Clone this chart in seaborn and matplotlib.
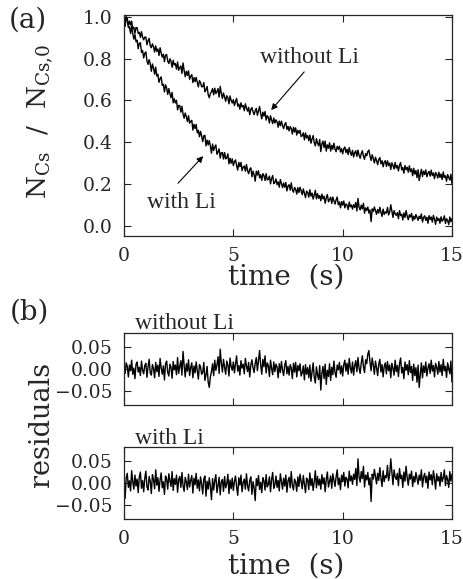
import numpy as np
import pandas as pd
import matplotlib
matplotlib.use("Agg")
import matplotlib.pyplot as plt
import seaborn as sns

# ---------------- data (values in thousandths, sampled every 0.05 s) ----------------
n_points = 301
t_start, t_end = 0.0, 15.0

without_li = [1000, 984, 1003, 989, 960, 981, 962, 981, 943, 952,
              922, 950, 949, 921, 927, 903, 930, 904, 891, 904,
              904, 867, 886, 898, 862, 853, 872, 858, 832, 862,
              836, 847, 816, 853, 827, 808, 822, 786, 818, 820,
              789, 777, 800, 788, 759, 793, 770, 777, 750, 785,
              745, 757, 766, 730, 780, 744, 714, 740, 720, 742,
              702, 716, 724, 686, 710, 690, 711, 688, 665, 695,
              686, 666, 666, 686, 642, 651, 667, 628, 613, 633,
              642, 657, 627, 659, 633, 642, 657, 616, 668, 634,
              610, 636, 615, 596, 623, 613, 584, 622, 600, 588,
              604, 576, 595, 610, 573, 583, 558, 589, 569, 576,
              551, 584, 564, 549, 567, 532, 557, 566, 546, 532,
              551, 562, 529, 549, 571, 537, 512, 544, 525, 547,
              506, 527, 519, 492, 527, 506, 489, 516, 492, 507,
              498, 472, 501, 479, 501, 479, 465, 486, 494, 461,
              476, 454, 475, 465, 439, 472, 449, 469, 434, 457,
              443, 457, 427, 431, 445, 411, 444, 420, 432, 407,
              434, 395, 415, 432, 398, 382, 417, 396, 383, 413,
              355, 391, 405, 374, 405, 357, 387, 371, 397, 357,
              385, 366, 395, 367, 354, 380, 366, 381, 353, 369,
              344, 368, 377, 350, 366, 340, 374, 351, 337, 361,
              329, 349, 359, 332, 362, 337, 323, 345, 359, 333,
              318, 345, 335, 355, 362, 333, 312, 340, 322, 300,
              328, 312, 292, 317, 326, 296, 311, 282, 304, 311,
              284, 311, 288, 300, 269, 301, 288, 271, 303, 276,
              288, 262, 290, 302, 267, 279, 251, 288, 268, 280,
              256, 287, 259, 272, 239, 275, 247, 264, 230, 268,
              216, 245, 270, 235, 261, 245, 267, 234, 251, 260,
              237, 266, 240, 252, 225, 255, 245, 228, 256, 231,
              247, 221, 257, 230, 239, 213, 245, 231, 218, 246,
              200]

with_li = [1000, 955, 992, 991, 949, 954, 921, 957, 921, 894,
           916, 882, 889, 848, 875, 877, 831, 840, 804, 826,
           833, 789, 773, 796, 776, 740, 775, 755, 726, 760,
           717, 726, 687, 705, 713, 672, 678, 641, 675, 660,
           629, 657, 633, 613, 639, 589, 608, 588, 601, 555,
           576, 576, 544, 572, 535, 515, 540, 522, 499, 527,
           491, 500, 505, 458, 486, 465, 485, 445, 457, 426,
           452, 431, 402, 431, 433, 382, 410, 387, 408, 382,
           347, 391, 360, 377, 387, 342, 353, 368, 324, 349,
           350, 319, 350, 320, 325, 344, 296, 323, 299, 320,
           288, 306, 315, 288, 266, 303, 283, 303, 263, 281,
           286, 261, 293, 263, 249, 271, 277, 234, 261, 244,
           213, 261, 242, 263, 229, 244, 217, 249, 240, 216,
           249, 219, 222, 237, 200, 226, 240, 201, 207, 224,
           196, 210, 184, 221, 201, 182, 204, 184, 207, 166,
           190, 196, 170, 205, 171, 160, 183, 174, 151, 182,
           158, 184, 167, 148, 176, 155, 134, 165, 159, 136,
           172, 141, 156, 127, 146, 169, 128, 153, 131, 144,
           119, 151, 128, 141, 107, 134, 149, 114, 125, 136,
           106, 137, 119, 103, 123, 137, 100, 113, 85, 115,
           98, 118, 85, 104, 98, 77, 113, 90, 99, 79,
           100, 87, 111, 70, 130, 88, 75, 98, 80, 107,
           59, 85, 73, 89, 60, 75, 19, 80, 68, 89,
           72, 54, 77, 60, 88, 64, 44, 79, 53, 66,
           60, 87, 51, 65, 100, 70, 39, 72, 56, 49,
           62, 33, 72, 48, 55, 27, 61, 39, 72, 46,
           28, 52, 41, 58, 23, 45, 31, 53, 39, 25,
           45, 33, 56, 17, 38, 47, 25, 40, 11, 48,
           29, 41, 17, 49, 30, 6, 41, 24, 34, 11,
           42, 21, 29, 47, 10, 33, 24, 5, 41, 18,
           34]

resid_without_li = [3, -10, 14, 6, -18, 9, -4, 20, -12, 2,
                    -22, 11, 16, -7, 4, -15, 18, -3, -11, 8,
                    13, -19, 5, 22, -9, -14, 10, 1, -20, 15,
                    -6, 9, -17, 24, 3, -12, 7, -25, 12, 18,
                    -8, -16, 11, 4, -21, 17, -2, 9, -13, 26,
                    -10, 6, 19, -14, 40, 8, -18, 12, -5, 21,
                    -15, 3, 14, -20, 7, -9, 16, -4, -23, 10,
                    5, -12, -8, 15, -26, -14, 6, -30, -42, -18,
                    -6, 12, -15, 20, -3, 9, 28, -10, 45, 14,
                    -7, 22, 4, -12, 18, 10, -16, 25, 6, -3,
                    16, -9, 12, 30, -5, 8, -14, 19, 2, 11,
                    -11, 24, 7, -6, 15, -18, 9, 21, 3, -8,
                    13, 26, -4, 18, 42, 10, -12, 22, 5, 30,
                    -9, 14, 8, -17, 20, 1, -13, 16, -6, 11,
                    4, -20, 12, -8, 17, -3, -15, 9, 19, -11,
                    6, -14, 10, 2, -22, 13, -7, 15, -18, 8,
                    -4, 12, -16, -9, 7, -25, 10, -12, 3, -20,
                    9, -28, -6, 14, -18, -32, 5, -14, -24, 8,
                    -48, -10, 6, -22, 11, -35, -3, -17, 12, -26,
                    4, -13, 18, -8, -19, 9, -2, 15, -11, 7,
                    -16, 10, 20, -5, 13, -12, 24, 3, -9, 16,
                    -14, 8, 19, -6, 26, 2, -10, 14, 30, 5,
                    -8, 21, 12, 34, 42, 15, -4, 25, 9, -12,
                    18, 3, -15, 11, 22, -7, 10, -18, 6, 14,
                    -11, 17, -4, 9, -20, 13, 2, -14, 20, -6,
                    8, -17, 12, 25, -9, 4, -22, 16, -3, 10,
                    -13, 19, -8, 6, -26, 11, -15, 3, -30, 9,
                    -42, -12, 14, -20, 7, -8, 16, -16, 2, 12,
                    -10, 20, -5, 8, -18, 13, 4, -12, 17, -7,
                    10, -15, 22, -4, 6, -19, 14, 1, -11, 18,
                    -30]

resid_with_li = [-4, -35, 12, 22, -10, 5, -18, 28, 3, -14,
                 18, -7, 9, -22, 14, 25, -12, 6, -20, 11,
                 27, -9, -16, 15, 4, -24, 19, 8, -13, 30,
                 -5, 12, -19, 7, 23, -11, 3, -26, 16, 9,
                 -14, 21, 5, -8, 26, -17, 10, -3, 18, -21,
                 8, 15, -10, 24, -6, -19, 13, 2, -15, 20,
                 -9, 6, 17, -23, 11, -4, 22, -12, 7, -18,
                 14, -2, -25, 9, 16, -30, 4, -14, 12, -8,
                 -38, 10, -16, 5, 19, -22, -6, 13, -27, 3,
                 8, -19, 15, -11, -2, 20, -24, 7, -13, 11,
                 -17, 4, 16, -9, -28, 12, -5, 18, -20, 1,
                 9, -14, 21, -7, -18, 6, 14, -26, 3, -11,
                 -40, 10, -6, 17, -15, 2, -22, 12, 5, -16,
                 19, -9, -3, 14, -20, 8, 24, -12, -4, 16,
                 -10, 6, -18, 21, 3, -14, 11, -7, 18, -21,
                 5, 13, -11, 26, -6, -16, 9, 2, -19, 14,
                 -8, 20, 4, -13, 17, -3, -22, 11, 7, -15,
                 23, -6, 10, -17, 3, 28, -11, 15, -5, 9,
                 -14, 19, -2, 12, -20, 8, 25, -9, 4, 16,
                 -12, 21, 6, -8, 14, 30, -4, 11, -15, 18,
                 3, 24, -7, 13, 9, -11, 27, 5, 16, -3,
                 20, 8, 33, -6, 55, 14, 2, 26, 10, 38,
                 -9, 18, 7, 24, -4, 12, -42, 20, 9, 31,
                 15, -2, 22, 6, 35, 11, -8, 28, 3, 17,
                 12, 40, 5, 19, 55, 26, -4, 30, 14, 8,
                 22, -6, 33, 10, 18, -10, 25, 4, 38, 12,
                 -5, 20, 9, 27, -8, 15, 2, 24, 11, -3,
                 18, 6, 30, -9, 13, 22, 1, 16, -12, 25,
                 7, 19, -4, 28, 10, -14, 21, 5, 15, -7,
                 24, 3, 12, 30, -6, 17, 8, -10, 26, 4,
                 20]

x_ticks = [0, 5, 10, 15]
y_ticks_a = [0.0, 0.2, 0.4, 0.6, 0.8, 1.0]
y_ticks_b = [-0.05, 0.0, 0.05]
y_ticklabels_b = ["\u22120.05", "0.00", "0.05"]

# ---------------- style ----------------
sns.set_style("ticks")
plt.rcParams["font.family"] = ["DejaVu Serif"]
plt.rcParams["mathtext.fontset"] = "dejavuserif"

time = np.linspace(t_start, t_end, n_points)
df = pd.DataFrame({
    "time": time,
    "without": np.array(without_li) / 1000.0,
    "with": np.array(with_li) / 1000.0,
    "res_without": np.array(resid_without_li) / 1000.0,
    "res_with": np.array(resid_with_li) / 1000.0,
})

W, H = 463, 579
fig = plt.figure(figsize=(W / 100, H / 100), dpi=100)


def box(left, top, right, bottom):
    return [left / W, 1 - bottom / H, (right - left) / W, (bottom - top) / H]


ax_a = fig.add_axes(box(124, 15, 452, 236))
ax_b1 = fig.add_axes(box(124, 333, 452, 405))
ax_b2 = fig.add_axes(box(124, 447, 452, 519))

lw = 1.0
sns.lineplot(data=df, x="time", y="without", ax=ax_a, color="black", lw=lw, estimator=None)
sns.lineplot(data=df, x="time", y="with", ax=ax_a, color="black", lw=lw, estimator=None)
sns.lineplot(data=df, x="time", y="res_without", ax=ax_b1, color="black", lw=lw, estimator=None)
sns.lineplot(data=df, x="time", y="res_with", ax=ax_b2, color="black", lw=lw, estimator=None)

tick_fs = 13.5
for ax in (ax_a, ax_b1, ax_b2):
    ax.set_xlim(0, 15)
    ax.set_xticks(x_ticks)
    ax.set_xlabel("")
    ax.set_ylabel("")
    ax.tick_params(direction="in", top=True, right=True, length=5, width=0.8,
                   labelsize=tick_fs, pad=8)
    for s in ax.spines.values():
        s.set_linewidth(0.9)
        s.set_visible(True)

ax_a.set_ylim(-0.05, 1.01)
ax_a.set_yticks(y_ticks_a)
ax_a.set_yticklabels([f"{v:.1f}" for v in y_ticks_a])
ax_a.set_xticklabels([str(v) for v in x_ticks])

for ax in (ax_b1, ax_b2):
    ax.set_ylim(-0.082, 0.082)
    ax.set_yticks(y_ticks_b)
    ax.set_yticklabels(y_ticklabels_b)
ax_b1.set_xticklabels([])
ax_b2.set_xticklabels([str(v) for v in x_ticks])

# annotations panel (a)
ann_font = dict(family="Liberation Serif", size=17)
ax_a.text(6.23, 0.78, "without Li", ha="left", va="baseline", **ann_font)
ax_a.text(1.05, 0.083, "with Li", ha="left", va="baseline", **ann_font)
arrow = dict(arrowstyle="-|>", lw=0.8, color="black", mutation_scale=9, shrinkA=0, shrinkB=0)
ax_a.annotate("", xy=(6.73, 0.554), xytext=(8.24, 0.737), arrowprops=arrow)
ax_a.annotate("", xy=(3.62, 0.333), xytext=(2.47, 0.203), arrowprops=arrow)

# panel (b) titles
fig.text(135 / W, 1 - 329 / H, "without Li", ha="left", va="baseline", **ann_font)
fig.text(135 / W, 1 - 444 / H, "with Li", ha="left", va="baseline", **ann_font)

# panel letters and axis labels
fig.text(9 / W, 1 - 20 / H, "(a)", ha="left", va="center", fontsize=20)
fig.text(10 / W, 1 - 312 / H, "(b)", ha="left", va="center", fontsize=20)
fig.text(40 / W, 1 - 121 / H, r"N$_{\mathrm{Cs}}$  /  N$_{\mathrm{Cs{,}0}}$",
         rotation=90, ha="center", va="center", fontsize=19)
fig.text(42 / W, 1 - 424 / H, "residuals", rotation=90, ha="center", va="center", fontsize=19.5)
fig.text(286 / W, 1 - 277 / H, "time  (s)", ha="center", va="center", fontsize=20)
fig.text(286 / W, 1 - 566 / H, "time  (s)", ha="center", va="center", fontsize=20)

fig.savefig("out.png", dpi=100)
